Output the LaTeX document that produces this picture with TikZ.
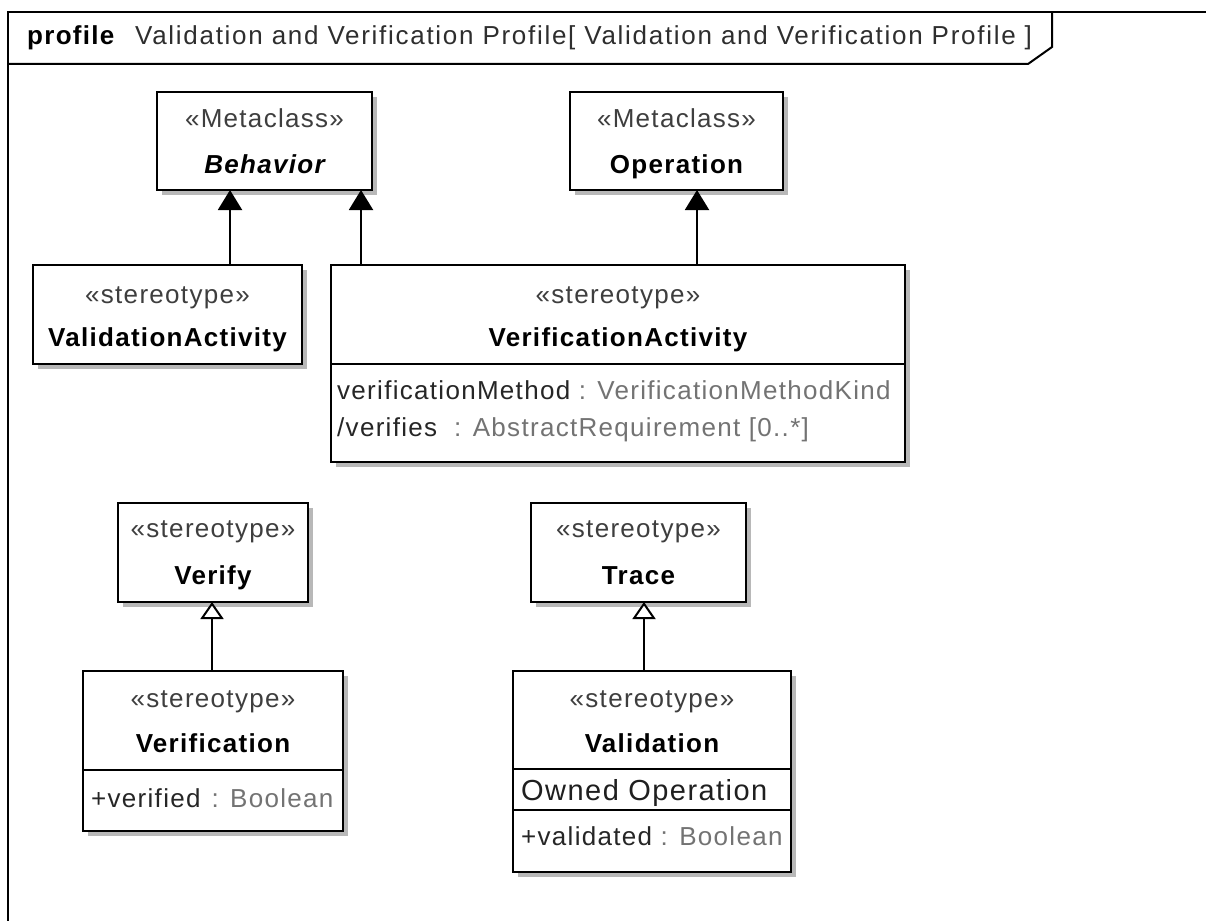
\documentclass[tikz,border=0pt]{standalone}
\usepackage{fontspec}
\setmainfont{Liberation Sans}[LetterSpace=5]
\usetikzlibrary{arrows.meta,shadows}
\definecolor{stcol}{HTML}{3E3E3E}
\definecolor{tycol}{HTML}{737373}
\definecolor{nmcol}{HTML}{262626}
\definecolor{hdcol}{HTML}{2E2E2E}
\begin{document}
\begin{tikzpicture}[x=1pt,y=-1pt,
  cls/.style={draw=black, line width=2pt, fill=white, inner sep=0pt, outer sep=0pt,
    drop shadow={shadow xshift=5pt, shadow yshift=-5pt, fill=black!28, opacity=1}},
  st/.style={anchor=base, inner sep=0pt, text=stcol, font=\fontsize{26}{30}\selectfont},
  nm/.style={anchor=base, inner sep=0pt, text=black, font=\fontsize{26}{30}\selectfont\bfseries},
  attr/.style={anchor=base west, inner sep=0pt, text=nmcol, font=\fontsize{26}{30}\selectfont},
  sep/.style={draw=black, line width=2pt},
  inh/.style={line width=2pt, -{Triangle[width=24pt,length=20pt]}},
  gen/.style={line width=2pt, -{Triangle[open,width=23pt,length=17pt,fill=white]}},
  frm/.style={draw=black, line width=2pt}
]
\useasboundingbox (0,0) rectangle (1206,920);
\fill[white] (0,0) rectangle (1206,920);
\clip (0,0) rectangle (1206,920);

% frame
\draw[frm] (8,930) -- (8,12) -- (1220,12);
\draw[frm] (8,64) -- (1028,64) -- (1052,47) -- (1052,12);
\node[anchor=base west, inner sep=0pt, font=\fontsize{26}{30}\selectfont\bfseries] (hdrKw) at (27,45) {profile};
\node[anchor=base west, inner sep=0pt, text=hdcol, font=\fontsize{26}{30}\selectfont\addfontfeatures{LetterSpace=6.6}] (hdr) at (135,45) {Validation and Verification Profile[ Validation and Verification Profile ]};

% Behavior
\node[cls, minimum width=215pt, minimum height=98pt] (behavior) at (264.5,141) {};
\node[st] (behaviorSt) at (264.5,128) {«Metaclass»};
\node[nm, font=\fontsize{26}{30}\selectfont\bfseries\itshape] (behaviorNm) at (264.5,174) {Behavior};

% Operation
\node[cls, minimum width=213pt, minimum height=98pt] (operation) at (676.5,141) {};
\node[st] (operationSt) at (676.5,128) {«Metaclass»};
\node[nm] (operationNm) at (676.5,174) {Operation};

% ValidationActivity
\node[cls, minimum width=269pt, minimum height=99pt] (valact) at (167.5,314.5) {};
\node[st] (valactSt) at (167.5,303) {«stereotype»};
\node[nm] (valactNm) at (167.5,346) {ValidationActivity};

% VerificationActivity
\node[cls, minimum width=574pt, minimum height=197pt] (veract) at (618,363.5) {};
\node[st] (veractSt) at (618,303) {«stereotype»};
\node[nm] (veractNm) at (618,346) {VerificationActivity};
\draw[sep] ([yshift=-99pt]veract.north west) -- ([yshift=-99pt]veract.north east);
\node[attr] (veractA1) at (337,399) {verificationMethod\ \textcolor{tycol}{: VerificationMethodKind}};
\node[attr] (veractA2) at (337,436) {/verifies\ \ \textcolor{tycol}{: AbstractRequirement [0..*]}};

% Verify
\node[cls, minimum width=190pt, minimum height=99pt] (verify) at (213,552.5) {};
\node[st] (verifySt) at (213,537) {«stereotype»};
\node[nm] (verifyNm) at (213,584) {Verify};

% Trace
\node[cls, minimum width=215pt, minimum height=99pt] (trace) at (638.5,552.5) {};
\node[st] (traceSt) at (638.5,537) {«stereotype»};
\node[nm] (traceNm) at (638.5,584) {Trace};

% Verification
\node[cls, minimum width=260pt, minimum height=160pt] (verification) at (213,751) {};
\node[st] (verificationSt) at (213,707) {«stereotype»};
\node[nm] (verificationNm) at (213,752) {Verification};
\draw[sep] ([yshift=-99pt]verification.north west) -- ([yshift=-99pt]verification.north east);
\node[attr] (verificationA1) at (91,807) {+verified\hspace{11pt}\textcolor{tycol}{: Boolean}};

% Validation
\node[cls, minimum width=278pt, minimum height=201pt] (validation) at (652,771.5) {};
\node[st] (validationSt) at (652,707) {«stereotype»};
\node[nm] (validationNm) at (652,752) {Validation};
\draw[sep] ([yshift=-98pt]validation.north west) -- ([yshift=-98pt]validation.north east);
\draw[sep] ([yshift=-139pt]validation.north west) -- ([yshift=-139pt]validation.north east);
\node[attr, text=black!88, font=\fontsize{29}{33}\selectfont] (validationOp) at (521,800) {Owned Operation};
\node[attr] (validationA1) at (521,845) {+validated\ \textcolor{tycol}{: Boolean}};

% connectors
\draw[inh] ([xshift=62.5pt]valact.north) -- ([xshift=62.5pt]valact.north |- behavior.south);
\draw[inh] ([xshift=-257pt]veract.north) -- ([xshift=-257pt]veract.north |- behavior.south);
\draw[inh] ([xshift=79pt]veract.north) -- ([xshift=79pt]veract.north |- operation.south);
\draw[gen] ([xshift=-1pt]verification.north) -- ([xshift=-1pt]verification.north |- verify.south);
\draw[gen] ([xshift=-8pt]validation.north) -- ([xshift=-8pt]validation.north |- trace.south);
\end{tikzpicture}
\end{document}
